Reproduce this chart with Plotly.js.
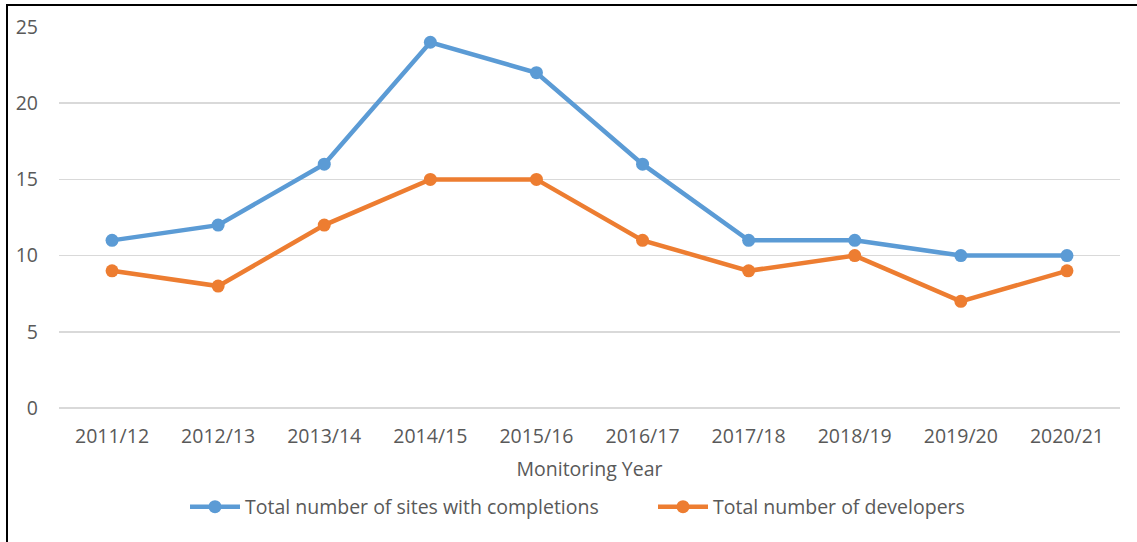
<!DOCTYPE html>
<html>
<head>
<meta charset="utf-8">
<script src="https://cdn.plot.ly/plotly-3.0.1.min.js"></script>
<style>
  html, body { margin: 0; padding: 0; background: #fff; }
  #chart { width: 1137px; height: 542px; }
</style>
</head>
<body>
<div id="chart"></div>
<script>
const years = ["2011/12","2012/13","2013/14","2014/15","2015/16","2016/17","2017/18","2018/19","2019/20","2020/21"];
const sitesWithCompletions = [11,12,16,24,22,16,11,11,10,10];
const developers = [9,8,12,15,15,11,9,10,7,9];
const yTicks = [0,5,10,15,20,25];

const W = 1137, H = 542;
const margin = {l: 59, r: 17, t: 27, b: 134, autoexpand: false};
const pw = W - margin.l - margin.r, ph = H - margin.t - margin.b;
const px2x = p => (p - margin.l) / pw;
const py2y = p => (H - margin.b - p) / ph;

const font = {family: "Open Sans, sans-serif", size: 19.5, color: "#595959"};

const traces = [
  {
    x: years, y: sitesWithCompletions, type: "scatter", mode: "lines+markers",
    name: "Total number of sites with completions",
    line: {color: "#5B9BD5", width: 4.5},
    marker: {color: "#5B9BD5", size: 13}
  },
  {
    x: years, y: developers, type: "scatter", mode: "lines+markers",
    name: "Total number of developers",
    line: {color: "#ED7D31", width: 4.5},
    marker: {color: "#ED7D31", size: 13}
  }
];

const layout = {
  width: W, height: H,
  margin: margin,
  paper_bgcolor: "#fff", plot_bgcolor: "#fff",
  font: font,
  showlegend: true,
  legend: {orientation: "h", x: px2x(185), xanchor: "left", y: py2y(507), yanchor: "middle",
           font: font, itemwidth: 50, entrywidth: 403, traceorder: "normal"},
  xaxis: {
    type: "category", range: [-0.5, years.length - 0.5],
    showgrid: false, zeroline: false, showline: false, ticks: "",
    tickfont: font, ticklabelstandoff: 14,
    title: {text: "Monitoring Year", font: font, standoff: 14}
  },
  yaxis: {
    range: [0, 25], tickvals: yTicks, ticktext: yTicks.map(String),
    showgrid: true, gridcolor: "#d9d9d9", gridwidth: 1.5,
    zeroline: true, zerolinecolor: "#d9d9d9", zerolinewidth: 1.5,
    showline: false, ticks: "", tickfont: font, ticklabelstandoff: 20
  },
  shapes: [
    {type: "line", xref: "paper", yref: "paper", x0: px2x(7), x1: px2x(W + 2), y0: py2y(5), y1: py2y(5),
     line: {color: "#000", width: 2}},
    {type: "line", xref: "paper", yref: "paper", x0: px2x(7), x1: px2x(7), y0: py2y(4), y1: py2y(H + 2),
     line: {color: "#000", width: 2}}
  ]
};

Plotly.newPlot("chart", traces, layout, {displayModeBar: false, staticPlot: true});
</script>
</body>
</html>
